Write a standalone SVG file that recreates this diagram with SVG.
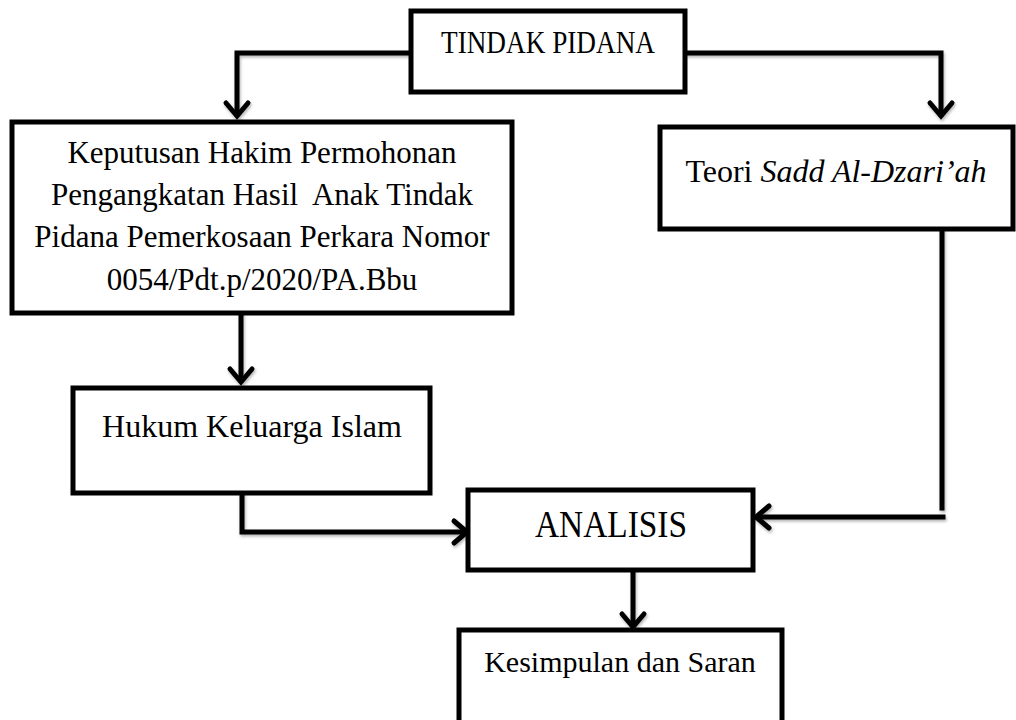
<svg xmlns="http://www.w3.org/2000/svg" width="1016" height="720" viewBox="0 0 1016 720">
<defs>
<filter id="sh" x="-10%" y="-10%" width="120%" height="130%">
<feDropShadow dx="1" dy="2" stdDeviation="1.5" flood-color="#000" flood-opacity="0.3"/>
</filter>
</defs>
<style>
.box{fill:#fff;stroke:#000;stroke-width:5;stroke-linejoin:miter}
.t{font-family:"Liberation Serif","Times New Roman",serif;font-size:31px;fill:#000;text-anchor:middle;white-space:pre}
.ln{fill:none;stroke:#000;stroke-width:5;stroke-linecap:square;stroke-linejoin:miter}
.ah{fill:none;stroke:#000;stroke-width:5;stroke-linecap:round;stroke-linejoin:miter}
</style>
<rect width="1016" height="720" fill="#fff"/>
<g id="connectors" filter="url(#sh)">
<polyline class="ln" points="411,53 237,53 237,114"/>
<polyline class="ah" points="226,103 237,116 248,103"/>
<polyline class="ln" points="685,53 941,53 941,114"/>
<polyline class="ah" points="930,103 941,116 952,103"/>
<line class="ln" x1="241" y1="313" x2="241" y2="380"/>
<polyline class="ah" points="230,369 241,382 252,369"/>
<polyline class="ln" points="242,493 242,532 465,532"/>
<polyline class="ah" points="454,521 467,532 454,543"/>
<line class="ln" x1="942" y1="230" x2="942" y2="508"/>
<line class="ln" x1="943" y1="517" x2="758" y2="517"/>
<polyline class="ah" points="769,506 756,517 769,528"/>
<line class="ln" x1="633" y1="570" x2="633" y2="625"/>
<polyline class="ah" points="622,614 633,627 644,614"/>
</g>
<g id="tindak-pidana">
<rect class="box" x="411" y="11" width="274" height="81"/>
<text class="t" x="548" y="53" style="font-size:32px" textLength="214" lengthAdjust="spacingAndGlyphs">TINDAK PIDANA</text>
</g>
<g id="keputusan">
<rect class="box" x="12" y="122" width="500" height="191"/>
<text class="t" x="262" y="163">Keputusan Hakim Permohonan</text>
<text class="t" x="262" y="205">Pengangkatan Hasil  Anak Tindak</text>
<text class="t" x="262" y="247">Pidana Pemerkosaan Perkara Nomor</text>
<text class="t" x="262" y="290">0054/Pdt.p/2020/PA.Bbu</text>
</g>
<g id="teori">
<rect class="box" x="660" y="127" width="353" height="102"/>
<text class="t" x="836" y="182" style="font-size:32px">Teori <tspan font-style="italic">Sadd Al-Dzari’ah</tspan></text>
</g>
<g id="hukum">
<rect class="box" x="73" y="388" width="357" height="105"/>
<text class="t" x="252" y="437" style="font-size:32px">Hukum Keluarga Islam</text>
</g>
<g id="analisis">
<rect class="box" x="468" y="490" width="285" height="80"/>
<text class="t" x="611" y="537" style="font-size:38px" textLength="152" lengthAdjust="spacingAndGlyphs">ANALISIS</text>
</g>
<g id="kesimpulan">
<rect class="box" x="459" y="630" width="323" height="100"/>
<text class="t" x="620" y="672" style="font-size:30px">Kesimpulan dan Saran</text>
</g>
</svg>
